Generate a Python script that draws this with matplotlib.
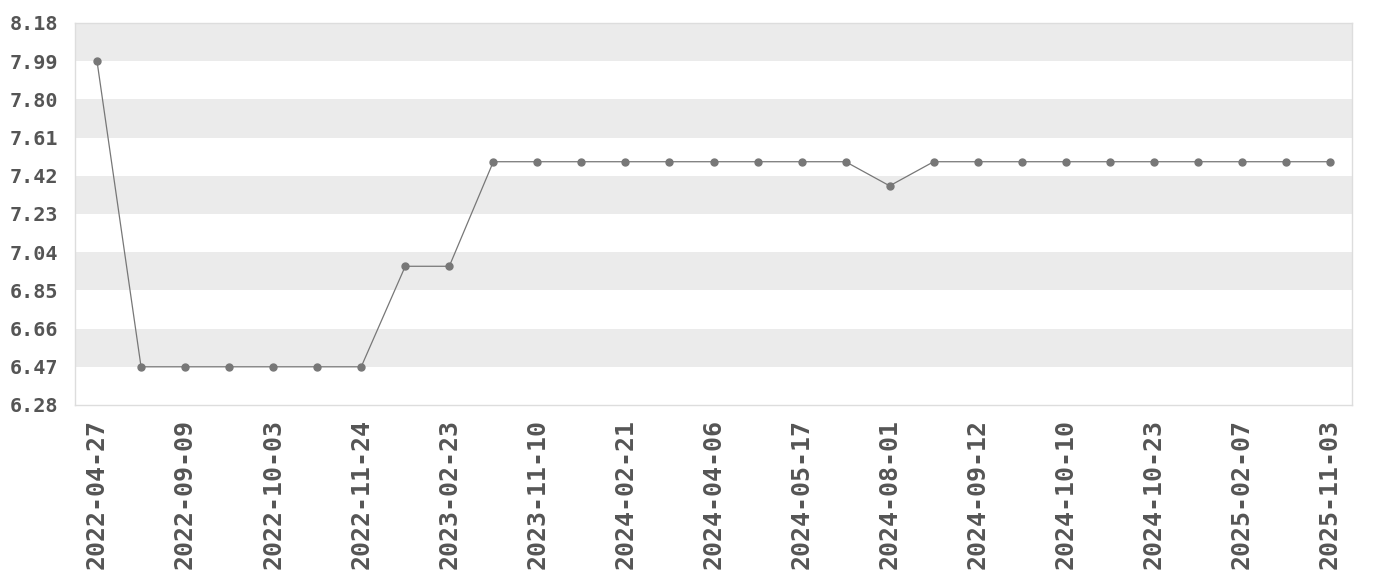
import numpy as np, matplotlib
matplotlib.use("Agg")
import matplotlib.pyplot as plt

values = [7.99, 6.47, 6.47, 6.47, 6.47, 6.47, 6.47, 6.97, 6.97, 7.49,
          7.49, 7.49, 7.49, 7.49, 7.49, 7.49, 7.49, 7.49, 7.37, 7.49,
          7.49, 7.49, 7.49, 7.49, 7.49, 7.49, 7.49, 7.49, 7.49]
tick_labels = ["2022-04-27", "2022-09-09", "2022-10-03", "2022-11-24",
               "2023-02-23", "2023-11-10", "2024-02-21", "2024-04-06",
               "2024-05-17", "2024-08-01", "2024-09-12", "2024-10-10",
               "2024-10-23", "2025-02-07", "2025-11-03"]
y_ticks = [6.28, 6.47, 6.66, 6.85, 7.04, 7.23, 7.42, 7.61, 7.80, 7.99, 8.18]

FONT = "DejaVu Sans Mono"
TXT = "#555555"

fig = plt.figure(figsize=(13.8, 5.8), dpi=100)
ax = fig.add_axes([75/1380, 175/580, 1277/1380, 382/580])

x = np.arange(len(values))
# alternating horizontal bands
for i in range(len(y_ticks) - 1):
    if i % 2 == 1:
        ax.axhspan(y_ticks[i], y_ticks[i+1], color="#ebebeb", lw=0, zorder=0)

ax.plot(x, values, color="#777777", lw=0.9, marker="o", ms=5,
        mfc="#777777", mec="#777777", zorder=3)

ax.set_xlim(-0.5, len(values) - 0.5)
ax.set_ylim(y_ticks[0], y_ticks[-1])
ax.set_yticks(y_ticks)
ax.set_yticklabels([f"{v:.2f}" for v in y_ticks], fontfamily=FONT,
                   fontweight="bold", fontsize=14.5, color=TXT)
ax.set_xticks(x[::2])
ax.set_xticklabels(tick_labels, rotation=90, fontfamily=FONT,
                   fontweight="bold", fontsize=18, color=TXT)
ax.tick_params(axis="both", length=0)
ax.tick_params(axis="y", pad=12)
ax.tick_params(axis="x", pad=10)
for s in ax.spines.values():
    s.set_color("#dddddd")
    s.set_linewidth(1)

fig.savefig("out.png", dpi=100)
